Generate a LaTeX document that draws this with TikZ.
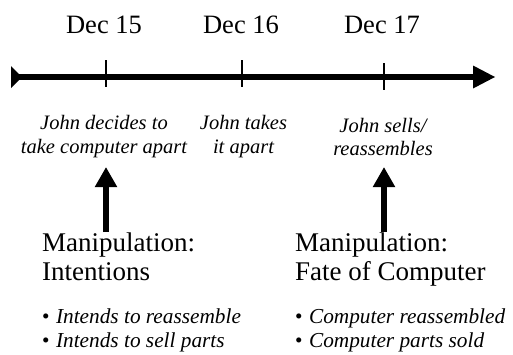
\documentclass[tikz,border=0pt]{standalone}
\usepackage{fontspec}
\setmainfont{Liberation Serif}
\usetikzlibrary{arrows.meta}
\newcommand{\bulletitem}{{\upshape\textbullet}\hspace{0.3em}}
\tikzset{
  date/.style={inner sep=0pt, anchor=base, font=\fontsize{26.5}{28}\selectfont},
  event/.style={inner sep=0pt, anchor=base, align=center, font=\fontsize{20.5}{23.5}\selectfont\itshape},
  manip/.style={inner sep=0pt, anchor=base west, align=left, font=\fontsize{27}{28.3}\selectfont},
  bullets/.style={inner sep=0pt, anchor=base west, align=left, font=\fontsize{21.3}{23.8}\selectfont\itshape},
  tick/.style={line width=2pt},
  axis/.style={line width=6pt},
  uparrow/.style={line width=6pt, -{Triangle[width=21pt,length=20pt]}},
}
\begin{document}
\begin{tikzpicture}[x=1pt,y=-1pt]
\useasboundingbox (0,0) rectangle (513,354);
% timeline
\coordinate (tl) at (18,77);
\coordinate (tr) at (476,77);
\draw[axis] (tl) -- (tr);
\fill (11,66) -- (22,77) -- (11,88) -- cycle;
\fill (473,65.5) -- (495,77) -- (473,88.5) -- cycle;
% ticks
\draw[tick] (106,60) -- (106,87);
\draw[tick] (242,60) -- (242,87);
\draw[tick] (384,63) -- (384,90);
% dates
\node[date] (d15) at (104,33) {Dec 15};
\node[date] (d16) at (241,33) {Dec 16};
\node[date] (d17) at (382,33) {Dec 17};
% events (base = last line)
\node[event] (e15) at (104,153) {John decides to\\take computer apart};
\node[event] (e16) at (243.5,153) {John takes\\it apart};
\node[event] (e17) at (383,155.5) {John sells/\\reassembles};
% manipulations
\node[manip] (mL) at (42,280) {Manipulation:\\Intentions};
\node[manip] (mR) at (295,280) {Manipulation:\\Fate of Computer};
\node[bullets] (bL) at (42,347) {\bulletitem Intends to reassemble\\\bulletitem Intends to sell parts};
\node[bullets] (bR) at (295,347) {\bulletitem Computer reassembled\\\bulletitem Computer parts sold};
% arrows
\coordinate (aL) at (106,232);
\coordinate (aR) at (384,232);
\draw[uparrow] (aL) -- (aL |- 0,167);
\draw[uparrow] (aR) -- (aR |- 0,167);
\end{tikzpicture}
\end{document}
